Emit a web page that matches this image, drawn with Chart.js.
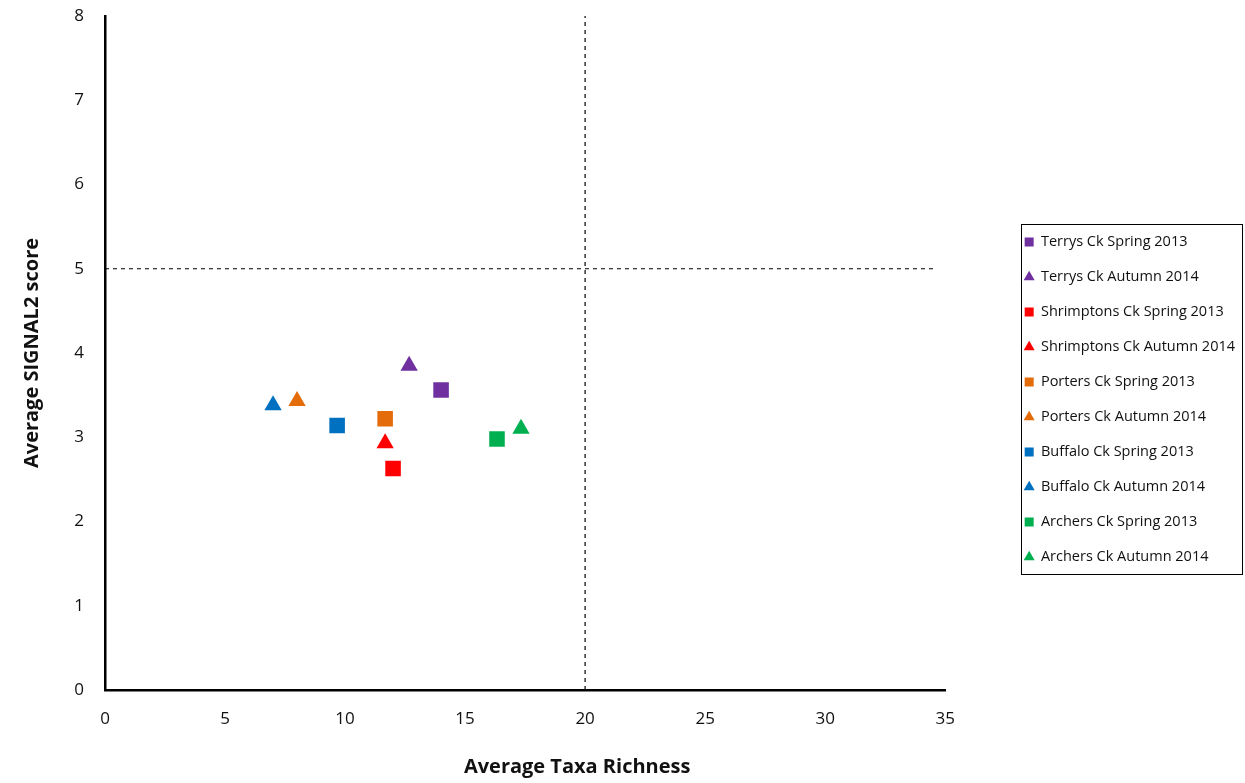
<!DOCTYPE html>
<html>
<head>
<meta charset="utf-8">
<script src="https://cdn.jsdelivr.net/npm/chart.js@4.4.1/dist/chart.umd.min.js"></script>
<style>
  html, body { margin: 0; padding: 0; background: #fff; }
  #wrap { width: 1245px; height: 783px; }
</style>
</head>
<body>
<div id="wrap"><canvas id="chart"></canvas></div>
<script>
// Site / season series
const seriesLabels = [
  'Terrys Ck Spring 2013', 'Terrys Ck Autumn 2014',
  'Shrimptons Ck Spring 2013', 'Shrimptons Ck Autumn 2014',
  'Porters Ck Spring 2013', 'Porters Ck Autumn 2014',
  'Buffalo Ck Spring 2013', 'Buffalo Ck Autumn 2014',
  'Archers Ck Spring 2013', 'Archers Ck Autumn 2014'
];
const taxaRichness = [14.0, 12.67, 12.0, 11.67, 11.67, 8.0, 9.67, 7.0, 16.33, 17.33];
const signal2Score = [3.56, 3.85, 2.63, 2.93, 3.22, 3.43, 3.14, 3.38, 2.98, 3.10];
const seriesColors = ['#7030A0', '#7030A0', '#FF0000', '#FF0000', '#E46C0A', '#E46C0A',
  '#0070C0', '#0070C0', '#00B050', '#00B050'];
const seriesShapes = ['rect', 'triangle', 'rect', 'triangle', 'rect', 'triangle',
  'rect', 'triangle', 'rect', 'triangle'];

// Threshold (dashed) lines
const richnessCut = 20;
const signalCut = 5;
const signalCutEnd = 34.5;

const xTicks = [0, 5, 10, 15, 20, 25, 30, 35];
const yTicks = [0, 1, 2, 3, 4, 5, 6, 7, 8];
const xTitle = 'Average Taxa Richness';
const yTitle = 'Average SIGNAL2 score';

const FONT = "'Open Sans', 'DejaVu Sans', sans-serif";
const TEXT = '#111';

const datasets = seriesLabels.map((label, i) => ({
  label: label,
  data: [{ x: taxaRichness[i], y: signal2Score[i] }],
  pointStyle: seriesShapes[i],
  pointRadius: seriesShapes[i] === 'rect' ? 11 : 10,
  pointHoverRadius: seriesShapes[i] === 'rect' ? 11 : 10,
  backgroundColor: seriesColors[i],
  borderColor: seriesColors[i],
  borderWidth: 0,
  showLine: false
}));

// dashed reference lines (kept out of the legend)
datasets.push({
  label: '',
  data: [{ x: richnessCut, y: yTicks[0] }, { x: richnessCut, y: yTicks[yTicks.length - 1] }],
  showLine: true, borderColor: '#000', borderWidth: 1.2, borderDash: [4, 4],
  pointRadius: 0, pointHoverRadius: 0
});
datasets.push({
  label: '',
  data: [{ x: xTicks[0], y: signalCut }, { x: signalCutEnd, y: signalCut }],
  showLine: true, borderColor: '#000', borderWidth: 1.2, borderDash: [4, 4],
  pointRadius: 0, pointHoverRadius: 0
});

// box round the legend
const legendFrame = {
  id: 'legendFrame',
  afterDraw(chart) {
    const boxes = chart.legend && chart.legend.legendHitBoxes;
    if (!boxes || !boxes.length) return;
    let l = Infinity, r = -Infinity, t = Infinity, b = -Infinity;
    boxes.forEach(h => {
      l = Math.min(l, h.left); r = Math.max(r, h.left + h.width);
      t = Math.min(t, h.top); b = Math.max(b, h.top + h.height);
    });
    const ctx = chart.ctx;
    ctx.save();
    ctx.strokeStyle = '#000';
    ctx.lineWidth = 1;
    ctx.strokeRect(Math.round(l - 4) + 0.5, Math.round(t - 11) + 0.5,
      Math.round(r - l + 11), Math.round(b - t + 20));
    ctx.restore();
  }
};

// x-axis title sits right of centre in the original
const xAxisTitle = {
  id: 'xAxisTitle',
  afterDraw(chart) {
    const a = chart.chartArea;
    const ctx = chart.ctx;
    ctx.save();
    ctx.font = "bold 20px " + FONT;
    ctx.fillStyle = TEXT;
    ctx.textAlign = 'center';
    ctx.textBaseline = 'middle';
    ctx.fillText(xTitle, a.left + (a.right - a.left) * 0.562, chart.height - 16);
    ctx.restore();
  }
};

function draw() {
  new Chart(document.getElementById('chart'), {
    type: 'scatter',
    data: { datasets: datasets },
    plugins: [legendFrame, xAxisTitle],
    options: {
      responsive: true,
      maintainAspectRatio: false,
      animation: false,
      layout: { padding: { top: 16, right: 0, bottom: 0, left: 0 } },
      plugins: {
        tooltip: { enabled: false },
        legend: {
          position: 'right',
          maxWidth: 300,
          labels: {
            usePointStyle: true,
            boxHeight: 9,
            boxWidth: 9,
            padding: 20.5,
            color: TEXT,
            font: { family: FONT, size: 14.5 },
            filter: item => item.text !== ''
          }
        }
      },
      scales: {
        x: {
          type: 'linear',
          min: xTicks[0],
          max: xTicks[xTicks.length - 1],
          afterBuildTicks: s => { s.ticks = xTicks.map(v => ({ value: v })); },
          afterFit: s => { s.height = 93; },
          grid: { display: false, drawTicks: false },
          border: { display: true, color: '#000', width: 2.5 },
          ticks: { padding: 19, color: TEXT, font: { family: FONT, size: 17 } },
          title: { display: false }
        },
        y: {
          type: 'linear',
          min: yTicks[0],
          max: yTicks[yTicks.length - 1],
          afterBuildTicks: s => { s.ticks = yTicks.map(v => ({ value: v })); },
          afterFit: s => { s.width = 105; s.paddingTop = 0; s.paddingBottom = 0; },
          grid: { display: false, drawTicks: false },
          border: { display: true, color: '#000', width: 2.5 },
          ticks: { padding: 21, color: TEXT, font: { family: FONT, size: 17 } },
          title: {
            display: true, text: yTitle, color: TEXT,
            font: { family: FONT, size: 20, weight: 'bold' },
            padding: { top: 20, bottom: 0 }
          }
        },
        // empty spacer between plot and legend
        yGap: {
          type: 'linear',
          position: 'right',
          display: true,
          afterFit: s => { s.width = 59; s.paddingTop = 0; s.paddingBottom = 0; },
          grid: { display: false, drawTicks: false },
          border: { display: false },
          ticks: { display: false }
        }
      }
    }
  });
}

Promise.all([
  document.fonts.load("14px 'Open Sans'"),
  document.fonts.load("bold 20px 'Open Sans'")
]).then(draw, draw);
</script>
</body>
</html>
